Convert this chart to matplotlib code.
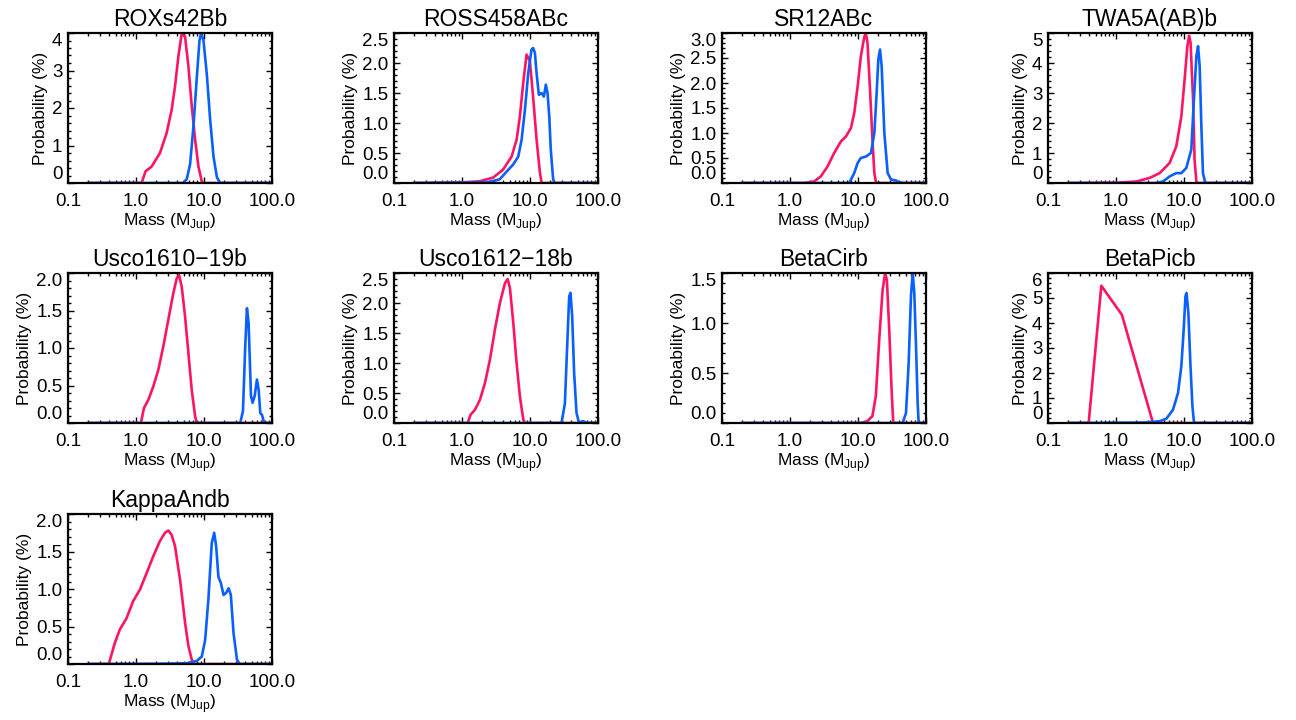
import matplotlib
matplotlib.use('Agg')
import matplotlib.pyplot as plt
from matplotlib.ticker import FixedLocator, LogLocator, NullFormatter, AutoMinorLocator

plt.rcParams['font.family'] = ['Liberation Sans', 'DejaVu Sans']
plt.rcParams['mathtext.fontset'] = 'custom'
plt.rcParams['mathtext.rm'] = 'Liberation Sans'

#===============================================================
# values, mass in M_Jup, probability in %

# ROXs42Bb
roxs_pink_m = [0.2, 1.21, 1.38, 1.70, 2.25, 2.82, 3.35, 3.75, 4.20, 4.70, 5.27, 5.90, 6.61, 7.40, 8.28, 9.28, 10.0, 100]
roxs_pink_p = [0, 0, 0.31, 0.44, 0.80, 1.33, 1.96, 2.58, 3.38, 3.98, 3.90, 3.11, 2.04, 1.16, 0.44, 0.04, 0, 0]
roxs_blue_m = [0.2, 4.87, 5.57, 6.24, 6.99, 7.83, 8.58, 9.08, 9.82, 11.0, 12.3, 13.8, 15.5, 17.3, 100]
roxs_blue_p = [0, 0, 0.10, 0.50, 1.50, 2.80, 3.80, 4.00, 3.80, 2.90, 1.70, 0.70, 0.15, 0, 0]

# ROSS458ABc
ross_pink_m = [0.2, 1.0, 1.84, 2.87, 4.0, 5.36, 6.35, 7.1, 7.95, 8.9, 9.96, 11.1, 12.5, 14.0, 14.8, 100]
ross_pink_p = [0, 0.01, 0.03, 0.09, 0.22, 0.44, 0.72, 1.11, 1.67, 2.14, 2.03, 1.44, 0.72, 0.17, 0, 0]
ross_blue_m = [0.2, 2.30, 3.57, 4.79, 5.67, 6.72, 7.52, 8.42, 9.42, 10.5, 11.1, 11.8, 12.5, 13.5, 14.8,
               16.0, 17.1, 18.1, 19.2, 20.2, 21.9, 23.2, 100]
ross_blue_p = [0, 0.01, 0.06, 0.22, 0.31, 0.44, 0.72, 1.22, 1.83, 2.22, 2.25, 2.17, 1.83, 1.47, 1.50,
               1.44, 1.64, 1.50, 1.11, 0.56, 0.06, 0, 0]

# SR12ABc
sr12_pink_m = [0.2, 1.61, 2.26, 2.83, 3.56, 4.46, 5.6, 6.64, 7.87, 8.81, 9.87, 11.0, 12.4, 13.1, 13.8,
               15.1, 16.4, 17.4, 18.4, 100]
sr12_pink_p = [0, 0, 0.03, 0.13, 0.33, 0.60, 0.83, 0.93, 1.10, 1.40, 1.93, 2.53, 2.93, 2.98, 2.80,
               1.80, 0.80, 0.20, 0, 0]
sr12_blue_m = [0.2, 7.43, 8.81, 9.87, 11.0, 13.1, 15.5, 17.4, 18.8, 19.9, 21.1, 22.3, 24.4, 27.3,
               30.6, 36.3, 40.6, 45.4, 100]
sr12_blue_p = [0, 0, 0.20, 0.40, 0.50, 0.53, 0.60, 1.00, 1.80, 2.47, 2.67, 2.33, 1.00, 0.20,
               0.07, 0.05, 0.01, 0, 0]

# TWA5A(AB)b
twa_pink_m = [0.2, 1.01, 1.99, 3.13, 4.39, 6.15, 7.7, 9.14, 10.2, 11.2, 11.9, 12.5, 13.6, 14.3, 15.2, 15.7, 100]
twa_pink_p = [0, 0.01, 0.05, 0.17, 0.33, 0.67, 1.22, 2.22, 3.44, 4.56, 4.91, 4.67, 2.78, 0.78, 0.05, 0, 0]
twa_blue_m = [0.2, 3.92, 4.91, 6.15, 7.7, 9.14, 10.8, 12.8, 14.0, 15.2, 16.1, 17.0, 18.0, 19.0, 20.6, 100]
twa_blue_p = [0, 0, 0.05, 0.22, 0.33, 0.33, 0.50, 1.11, 2.78, 4.22, 4.56, 3.90, 1.90, 0.33, 0, 0]

# Usco1610-19b
u1610_pink_m = [0.2, 1.18, 1.31, 1.52, 1.8, 2.13, 2.52, 2.99, 3.54, 3.97, 4.3, 4.7, 5.27, 5.9, 6.6, 7.4, 7.83, 100]
u1610_pink_p = [0, 0, 0.20, 0.31, 0.49, 0.71, 1.02, 1.38, 1.73, 1.93, 1.97, 1.82, 1.42, 0.93, 0.44, 0.09, 0, 0]
u1610_blue_m = [0.2, 34.1, 37.4, 40.4, 42.8, 45.3, 49.1, 51.9, 55.6, 60.1, 63.7, 67.3, 71.3, 75.4, 79.8, 100]
u1610_blue_p = [0, 0, 0.16, 1.02, 1.53, 1.33, 0.36, 0.27, 0.36, 0.58, 0.44, 0.13, 0.11, 0.02, 0, 0]

# Usco1612-18b
u1612_pink_m = [0.2, 1.21, 1.34, 1.55, 1.84, 2.18, 2.58, 3.05, 3.61, 4.28, 4.69, 5.07, 5.68, 6.35, 7.11, 7.96, 8.42, 100]
u1612_pink_p = [0, 0, 0.14, 0.22, 0.39, 0.67, 1.06, 1.56, 2.00, 2.33, 2.40, 2.25, 1.67, 1.00, 0.44, 0.06, 0, 0]
u1612_blue_m = [0.2, 29.1, 32.6, 35.2, 37.7, 39.4, 41.7, 44.6, 48.3, 52.3, 60.5, 65.5, 71.7, 100]
u1612_blue_p = [0, 0, 0.33, 1.28, 2.11, 2.17, 1.78, 0.83, 0.17, 0.01, 0.03, 0.01, 0, 0]

# BetaCirb
bcir_pink_m = [0.2, 11.0, 13.8, 16.3, 18.3, 20.5, 23.0, 25.1, 26.6, 28.8, 31.2, 33.0, 100]
bcir_pink_p = [0, 0, 0.02, 0.07, 0.27, 0.83, 1.33, 1.50, 1.43, 0.93, 0.33, 0, 0]
bcir_blue_m = [0.2, 45.3, 50.8, 55.6, 60.1, 63.7, 67.3, 71.3, 75.4, 78.0, 100]
bcir_blue_p = [0, 0, 0.10, 0.60, 1.27, 1.50, 1.30, 0.77, 0.20, 0, 0]

# BetaPicb
bpic_pink_m = [0.2, 0.396, 0.608, 1.22, 3.5, 100]
bpic_pink_p = [0, 0, 5.49, 4.33, 0, 0]
bpic_blue_m = [0.2, 2.67, 4.38, 5.5, 6.89, 8.16, 9.14, 9.89, 10.5, 10.9, 11.6, 12.4, 13.3, 14.0, 14.9, 100]
bpic_blue_p = [0, 0.02, 0.07, 0.17, 0.53, 1.20, 2.27, 3.73, 5.07, 5.20, 4.40, 2.40, 0.67, 0.05, 0, 0]

# KappaAndb
kand_pink_m = [0.2, 0.398, 0.488, 0.578, 0.726, 0.91, 1.14, 1.43, 1.8, 2.25, 2.67, 2.99, 3.35, 3.75,
               4.45, 5.27, 5.9, 6.6, 7.15, 100]
kand_pink_p = [0, 0, 0.28, 0.46, 0.61, 0.84, 0.99, 1.21, 1.44, 1.64, 1.75, 1.78, 1.72, 1.57,
               1.12, 0.55, 0.24, 0.06, 0, 0]
kand_blue_m = [0.2, 2.83, 5.57, 7.83, 9.28, 10.4, 11.6, 13.0, 14.1, 15.1, 16.3, 17.7, 19.4, 21.2,
               23.0, 24.8, 27.2, 30.5, 33.4, 100]
kand_blue_p = [0, 0.005, 0.01, 0.04, 0.10, 0.32, 0.86, 1.61, 1.75, 1.57, 1.16, 1.08, 0.92, 0.95,
               1.01, 0.92, 0.41, 0.06, 0, 0]

titles = ['ROXs42Bb', 'ROSS458ABc', 'SR12ABc', 'TWA5A(AB)b', 'Usco1610\u221219b',
          'Usco1612\u221218b', 'BetaCirb', 'BetaPicb', 'KappaAndb']
ymax = [4, 2.5, 3.0, 5, 2.0, 2.5, 1.5, 6, 2.0]
ystep = [1, 0.5, 0.5, 1, 0.5, 0.5, 0.5, 1, 0.5]
pink_m = [roxs_pink_m, ross_pink_m, sr12_pink_m, twa_pink_m, u1610_pink_m, u1612_pink_m,
          bcir_pink_m, bpic_pink_m, kand_pink_m]
pink_p = [roxs_pink_p, ross_pink_p, sr12_pink_p, twa_pink_p, u1610_pink_p, u1612_pink_p,
          bcir_pink_p, bpic_pink_p, kand_pink_p]
blue_m = [roxs_blue_m, ross_blue_m, sr12_blue_m, twa_blue_m, u1610_blue_m, u1612_blue_m,
          bcir_blue_m, bpic_blue_m, kand_blue_m]
blue_p = [roxs_blue_p, ross_blue_p, sr12_blue_p, twa_blue_p, u1610_blue_p, u1612_blue_p,
          bcir_blue_p, bpic_blue_p, kand_blue_p]

xticks = [0.1, 1.0, 10.0, 100.0]
xticklabels = ['0.1', '1.0', '10.0', '100.0']

PINK = '#ff1464'
BLUE = '#0a5fff'

#===============================================================
W, H = 1296, 720
fig = plt.figure(figsize=(W / 100, H / 100), dpi=100)

col_left = [68, 394, 722, 1048]
row_bottom = [183, 423, 664]
ax_w, ax_h = 204, 150

for i in range(len(titles)):
    r, c = divmod(i, 4)
    ax = fig.add_axes([col_left[c] / W, 1 - row_bottom[r] / H, ax_w / W, ax_h / H])

    ax.plot(pink_m[i], pink_p[i], color=PINK, lw=1.9, solid_joinstyle='round')
    ax.plot(blue_m[i], blue_p[i], color=BLUE, lw=1.9, solid_joinstyle='round')

    ax.set_xscale('log')
    ax.set_xlim(0.1, 100)
    ax.set_ylim(0, ymax[i])

    ax.xaxis.set_major_locator(FixedLocator(xticks))
    ax.set_xticklabels(xticklabels)
    ax.xaxis.set_minor_locator(LogLocator(base=10, subs=[2, 3, 4, 5, 6, 7, 8, 9]))
    ax.xaxis.set_minor_formatter(NullFormatter())

    n = int(round(ymax[i] / ystep[i]))
    yt = [k * ystep[i] for k in range(n + 1)]
    if ystep[i] < 1:
        ylabs = ['%.1f' % v for v in yt]
    else:
        ylabs = ['%d' % v for v in yt]
    ax.set_yticks(yt)
    ax.set_yticklabels(ylabs)
    ax.yaxis.set_minor_locator(AutoMinorLocator(5))

    ax.tick_params(which='both', direction='in', top=True, right=True, width=1.0,
                   labelsize=13.5, color='black')
    ax.tick_params(axis='x', which='major', length=4.5, pad=7)
    ax.tick_params(axis='y', which='major', length=4.5, pad=4)
    ax.tick_params(which='minor', length=2.2)
    for s in ax.spines.values():
        s.set_linewidth(1.6)

    # end labels sit inside the axis range like in the reference
    ylab_objs = ax.get_yticklabels()
    ylab_objs[0].set_va('bottom')
    ylab_objs[-1].set_va('top')

    ax.set_title(titles[i], fontsize=16.5, pad=5)
    ax.set_ylabel('Probability (%)', fontsize=12.5, labelpad=3)
    ax.set_xlabel('Mass (M$_{\\mathrm{Jup}}$)', fontsize=12.5, labelpad=1)

fig.savefig('out.png', dpi=100)
